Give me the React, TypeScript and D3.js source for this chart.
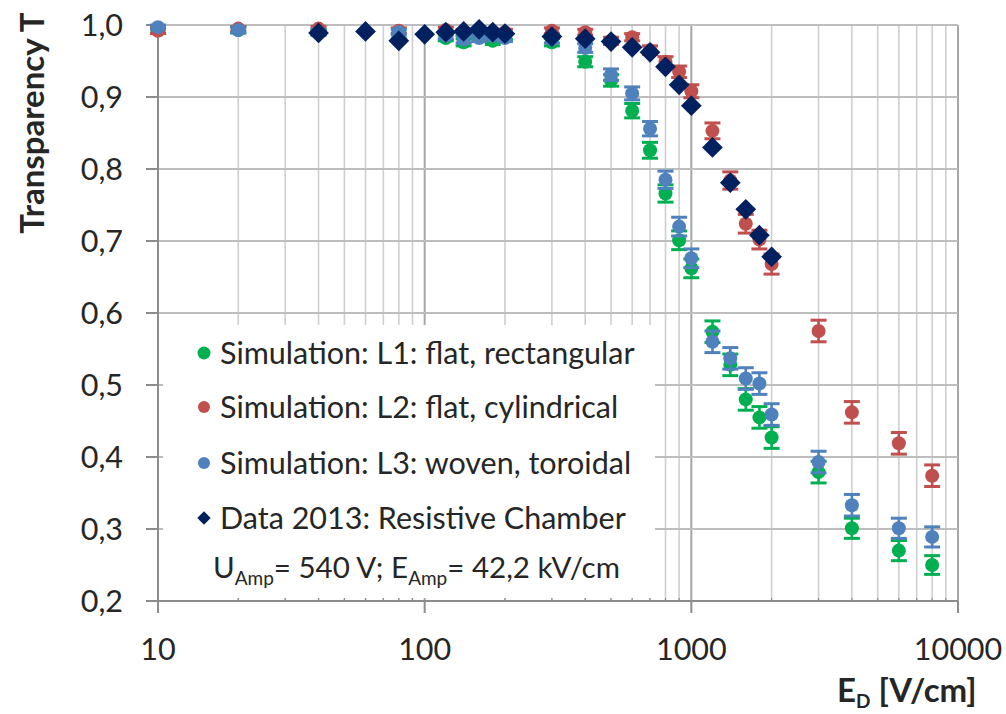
import React from 'react';
import * as d3 from 'd3';

// ---------- data ----------
const simE = [10, 20, 40, 80, 120, 140, 160, 180, 200, 300, 400, 500, 600, 700, 800, 900, 1000, 1200, 1400, 1600, 1800, 2000, 3000, 4000, 6000, 8000];

const l1T = [0.993, 0.993, 0.99, 0.985, 0.982, 0.976, 0.985, 0.978, 0.984, 0.976, 0.949, 0.923, 0.881, 0.826, 0.766, 0.701, 0.662, 0.574, 0.528, 0.48, 0.455, 0.427, 0.379, 0.301, 0.27, 0.25];
const l1Err = [0.004, 0.004, 0.004, 0.004, 0.004, 0.005, 0.004, 0.005, 0.004, 0.005, 0.007, 0.008, 0.01, 0.011, 0.012, 0.013, 0.013, 0.015, 0.015, 0.015, 0.015, 0.015, 0.015, 0.014, 0.014, 0.013];

const l2T = [0.992, 0.995, 0.995, 0.992, 0.993, 0.99, 0.99, 0.99, 0.99, 0.992, 0.99, 0.978, 0.983, 0.965, 0.949, 0.935, 0.908, 0.853, 0.784, 0.724, 0.702, 0.668, 0.575, 0.462, 0.419, 0.374];
const l2Err = [0.004, 0.003, 0.003, 0.004, 0.004, 0.004, 0.004, 0.004, 0.004, 0.004, 0.004, 0.005, 0.005, 0.006, 0.007, 0.008, 0.009, 0.011, 0.012, 0.013, 0.013, 0.014, 0.015, 0.015, 0.015, 0.015];

const l3T = [0.997, 0.993, 0.99, 0.99, 0.985, 0.98, 0.982, 0.985, 0.982, 0.98, 0.968, 0.931, 0.905, 0.856, 0.785, 0.72, 0.676, 0.56, 0.537, 0.509, 0.502, 0.459, 0.393, 0.333, 0.301, 0.289];
const l3Err = [0.003, 0.004, 0.004, 0.004, 0.004, 0.005, 0.005, 0.004, 0.005, 0.005, 0.006, 0.008, 0.009, 0.01, 0.012, 0.013, 0.013, 0.015, 0.015, 0.015, 0.015, 0.015, 0.015, 0.015, 0.014, 0.014];

const dataE = [40, 60, 80, 100, 120, 140, 160, 180, 200, 300, 400, 500, 600, 700, 800, 900, 1000, 1200, 1400, 1600, 1800, 2000];
const dataT = [0.989, 0.991, 0.978, 0.987, 0.99, 0.991, 0.994, 0.99, 0.988, 0.984, 0.981, 0.977, 0.969, 0.962, 0.942, 0.917, 0.888, 0.83, 0.781, 0.744, 0.708, 0.678];

const seriesNames = [
  'Simulation: L1: flat, rectangular',
  'Simulation: L2: flat, cylindrical',
  'Simulation: L3: woven, toroidal',
  'Data 2013: Resistive Chamber',
];
const seriesColors = ['#00b050', '#c0504d', '#4f81bd', '#002060'];

const xTickValues = [10, 100, 1000, 10000];
const yTickValues = [0.2, 0.3, 0.4, 0.5, 0.6, 0.7, 0.8, 0.9, 1.0];

const FONT = 'Lato, "Open Sans", sans-serif';

const locale = d3.formatLocale({ decimal: ',', thousands: '.', grouping: [3], currency: ['', ''] });
const fmtY = locale.format('.1f');

export default function App() {
  const x = d3.scaleLog().domain([10, 10000]).range([158, 958]);
  const y = d3.scaleLinear().domain([0.2, 1.0]).range([601, 25]);

  // minor log gridlines
  const minor: number[] = [];
  for (const dec of [10, 100, 1000]) {
    for (let k = 2; k <= 9; k++) minor.push(dec * k);
  }

  const sims = [
    { t: l1T, e: l1Err, c: seriesColors[0] },
    { t: l2T, e: l2Err, c: seriesColors[1] },
    { t: l3T, e: l3Err, c: seriesColors[2] },
  ];

  const diamond = d3.symbol(d3.symbolSquare, 215)();

  const legendRows = [353, 407, 463, 518];

  return (
    <svg width={1006} height={714} style={{ position: 'absolute', left: 0, top: 0, background: '#fff' }} fontFamily={FONT}>
      <rect x={0} y={0} width={1006} height={714} fill="#fff" />
      {/* vertical minor gridlines */}
      {minor.map((v) => (
        <line key={'m' + v} x1={x(v)} x2={x(v)} y1={y(1.0)} y2={y(0.2)} stroke="#cfcfcf" strokeWidth={1.6} />
      ))}
      {/* vertical major gridlines */}
      {xTickValues.slice(1).map((v) => (
        <line key={'M' + v} x1={x(v)} x2={x(v)} y1={y(1.0)} y2={y(0.2)} stroke="#a6a6a6" strokeWidth={2} />
      ))}
      {/* horizontal gridlines */}
      {yTickValues.slice(1).map((v) => (
        <line key={'h' + v} x1={x(10)} x2={x(10000)} y1={y(v)} y2={y(v)} stroke="#bdbdbd" strokeWidth={2} />
      ))}

      {/* legend background */}
      <rect x={163} y={325} width={492} height={273} fill="#fff" />

      {/* axes */}
      <line x1={x(10)} x2={x(10)} y1={y(1.0)} y2={y(0.2)} stroke="#8c8c8c" strokeWidth={2} />
      <line x1={x(10)} x2={x(10000)} y1={y(0.2)} y2={y(0.2)} stroke="#8c8c8c" strokeWidth={2} />
      {yTickValues.map((v) => (
        <line key={'yt' + v} x1={146} x2={x(10)} y1={y(v)} y2={y(v)} stroke="#8c8c8c" strokeWidth={2} />
      ))}
      {xTickValues.map((v) => (
        <line key={'xt' + v} x1={x(v)} x2={x(v)} y1={y(0.2)} y2={y(0.2) + 12} stroke="#8c8c8c" strokeWidth={2} />
      ))}
      {minor.map((v) => (
        <line key={'xmt' + v} x1={x(v)} x2={x(v)} y1={y(0.2) - 3} y2={y(0.2) + 1} stroke="#8c8c8c" strokeWidth={1.2} />
      ))}

      {/* tick labels */}
      {yTickValues.map((v) => (
        <text key={'yl' + v} x={123} y={y(v) + 11} textAnchor="end" fontSize={30.5} fill="#262626">
          {fmtY(v)}
        </text>
      ))}
      {xTickValues.map((v) => (
        <text key={'xl' + v} x={x(v)} y={660} textAnchor="middle" fontSize={30.5} fill="#262626">
          {String(v)}
        </text>
      ))}

      {/* axis titles */}
      <text transform="translate(44,123) rotate(-90)" textAnchor="middle" fontSize={33} fontWeight="bold" fill="#262626">
        Transparency T
      </text>
      <text x={837} y={702} fontSize={33} fontWeight="bold" fill="#262626">
        E<tspan fontSize={19} dy={6}>D</tspan>
        <tspan dy={-6}> [V/cm]</tspan>
      </text>

      {/* simulation series */}
      {sims.map((s, si) => (
        <g key={'s' + si}>
          {simE.map((e, i) => {
            const cx = x(e);
            const top = y(s.t[i] + s.e[i]);
            const bot = y(s.t[i] - s.e[i]);
            return (
              <g key={i} stroke={s.c} strokeWidth={2.6}>
                <line x1={cx} x2={cx} y1={top} y2={bot} />
                <line x1={cx - 8} x2={cx + 8} y1={top} y2={top} strokeWidth={3} />
                <line x1={cx - 8} x2={cx + 8} y1={bot} y2={bot} strokeWidth={3} />
              </g>
            );
          })}
          {simE.map((e, i) => (
            <circle key={'c' + i} cx={x(e)} cy={y(s.t[i])} r={7} fill={s.c} />
          ))}
        </g>
      ))}

      {/* measured data */}
      {dataE.map((e, i) => (
        <path key={'d' + i} d={diamond!} transform={`translate(${x(e)},${y(dataT[i])}) rotate(45)`} fill={seriesColors[3]} />
      ))}

      {/* legend */}
      {seriesNames.map((name, i) => (
        <g key={'lg' + i}>
          {i < 3 ? (
            <circle cx={204} cy={legendRows[i]} r={i === 0 ? 6.5 : 6} fill={seriesColors[i]} />
          ) : (
            <path d={d3.symbol(d3.symbolSquare, 90)()!} transform={`translate(204,${legendRows[i]}) rotate(45)`} fill={seriesColors[i]} />
          )}
          <text x={220} y={legendRows[i] + 10.5} fontSize={30.5} fill="#262626">
            {name}
          </text>
        </g>
      ))}
      <text x={213} y={578} fontSize={29.5} fill="#262626">
        U<tspan fontSize={19} dy={7}>Amp</tspan>
        <tspan dy={-7}>= 540 V; E</tspan>
        <tspan fontSize={19} dy={7}>Amp</tspan>
        <tspan dy={-7}>= 42,2 kV/cm</tspan>
      </text>
    </svg>
  );
}
